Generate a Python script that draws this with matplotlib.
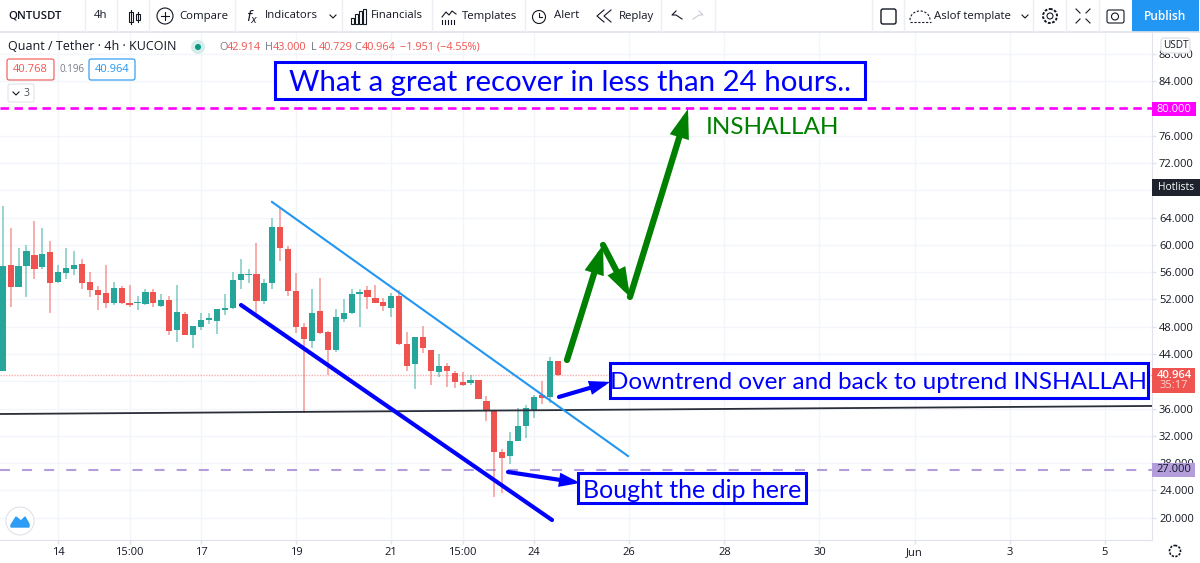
import numpy as np
import matplotlib
matplotlib.use("Agg")
import matplotlib.pyplot as plt
from matplotlib.patches import Rectangle, Circle, FancyBboxPatch, Polygon

plt.rcParams['font.family'] = ['Open Sans', 'DejaVu Sans']

# candles, one row per 4h bar
opens = [41.51, 57.06, 53.78, 56.86, 58.52, 56.71, 58.92, 54.56, 55.93, 56.52,
         57.25, 54.51, 53.44, 52.95, 51.43, 53.73, 51.48, 51.53, 51.34, 53.15,
         51.09, 51.97, 47.52, 49.87, 46.84, 48.01, 49.04, 48.89, 50.50, 50.70,
         54.81, 55.64, 55.69, 51.78, 54.42, 62.58, 59.40, 53.24, 48.01, 45.95,
         50.26, 47.22, 44.54, 49.18, 49.96, 52.80, 53.34, 52.26, 51.58, 50.75,
         52.46, 45.46, 42.48, 46.44, 44.58, 41.31, 42.19, 41.21, 39.94, 39.74,
         40.13, 37.10, 35.64, 29.62, 29.08, 31.23, 33.43, 35.78, 37.93, 37.74,
         42.914]
highs = [65.62, 62.53, 59.60, 59.99, 63.51, 62.53, 60.58, 57.01, 59.50, 59.11,
         57.94, 56.03, 54.03, 57.01, 54.51, 54.03, 54.07, 52.51, 53.49, 53.49,
         52.80, 52.51, 54.07, 50.16, 48.11, 50.02, 50.02, 50.60, 52.85, 56.03,
         57.99, 56.47, 60.33, 55.00, 64.00, 65.52, 59.89, 55.83, 48.50, 53.53,
         55.10, 47.42, 50.55, 52.02, 53.53, 53.53, 53.97, 54.12, 52.16, 52.99,
         53.39, 47.18, 46.44, 48.10, 44.58, 44.00, 42.63, 41.45, 41.40, 40.97,
         40.13, 37.84, 35.78, 30.06, 32.51, 36.03, 36.52, 37.98, 40.04, 43.51,
         43.00]
lows = [41.51, 50.95, 53.78, 52.41, 54.96, 56.42, 49.97, 54.47, 54.96, 55.54,
        53.49, 52.41, 50.46, 50.70, 51.14, 51.34, 50.95, 50.46, 51.24, 50.95,
        50.95, 46.79, 45.71, 46.79, 44.93, 47.52, 48.40, 46.98, 49.72, 50.60,
        53.54, 54.47, 50.06, 51.34, 53.59, 57.69, 52.51, 47.03, 35.29, 44.93,
        46.93, 40.92, 44.34, 48.74, 49.87, 48.01, 50.60, 51.43, 50.35, 49.47,
        45.37, 41.50, 38.86, 44.10, 39.45, 40.57, 39.11, 39.06, 39.35, 39.50,
        37.35, 34.22, 23.07, 23.65, 27.86, 31.19, 31.63, 34.66, 36.66, 36.76,
        40.729]
closes = [56.96, 53.83, 56.86, 59.06, 56.52, 58.67, 54.47, 55.98, 56.57, 57.01,
          54.47, 53.39, 52.61, 51.43, 53.73, 51.43, 51.24, 51.68, 53.15, 51.43,
          51.92, 47.42, 50.11, 46.84, 48.06, 48.99, 49.23, 50.55, 50.70, 54.81,
          55.69, 55.69, 51.78, 54.42, 62.58, 59.50, 53.24, 48.01, 46.25, 49.96,
          47.03, 44.54, 49.47, 49.96, 52.85, 53.04, 52.41, 51.53, 51.09, 52.46,
          45.46, 42.19, 46.44, 44.83, 41.55, 42.19, 41.55, 39.94, 39.45, 40.13,
          37.40, 35.73, 29.62, 28.69, 31.28, 33.48, 36.03, 37.69, 37.54, 42.92,
          40.964]

time_ticks = [7, 16, 25, 37, 49, 58, 67, 79, 91, 103, 115, 127, 139]
time_labels = ["14", "15:00", "17", "19", "21", "15:00", "24", "26", "28", "30", "Jun", "3", "5"]
price_ticks = [20, 24, 28, 32, 36, 40, 44, 48, 52, 56, 60, 64, 68, 72, 76, 80, 84, 88]

# drawings, as (bar, price)
channel_top = ([33.96, 78.85], [66.29, 29.04])
channel_bottom = ([30.05, 69.27], [51.18, 19.66])
support = ([-0.34, 144.93], [35.2, 36.38])
green_path = ([71.16, 75.7, 79.1, 86.42], [43.12, 59.98, 52.36, 79.92])
arrow_breakout = ([70.15, 76.6], [37.7, 39.9])
arrow_dip = ([63.72, 72.8], [26.7, 25.09])
target_level = 80
dip_level = 27
last_price = 40.964

UP, DOWN = "#26a69a", "#ef5350"
GRID = "#f3f5fa"
TEXT = "#131722"
LINE = "#e0e3eb"
BLUE = "#0000ff"
NOTE_FONT = ['Lato', 'DejaVu Sans']

fig = plt.figure(figsize=(12, 5.63), dpi=100)
ax = fig.add_axes([0, 23 / 563, 1152 / 1200, 508 / 563])
ax.set_xlim(-0.34, 144.93)
ax.set_ylim(16.73, 91.2)
ax.grid(True, color=GRID, lw=1)
ax.set_axisbelow(True)
for side in ["top", "left"]:
    ax.spines[side].set_visible(False)
for side in ["right", "bottom"]:
    ax.spines[side].set_color(LINE)
ax.yaxis.tick_right()
ax.set_yticks(price_ticks)
ax.set_yticklabels(["%.3f" % p for p in price_ticks], fontsize=8, color=TEXT)
ax.set_xticks(time_ticks)
ax.set_xticklabels(time_labels, fontsize=8, color=TEXT)
ax.tick_params(axis="both", color=LINE, length=3, width=1, pad=2)

# candles
x = np.arange(len(opens))
o, h, l, c = map(np.array, (opens, highs, lows, closes))
colors = [UP if b >= a else DOWN for a, b in zip(o, c)]
ax.vlines(x, l, h, colors=colors, lw=1.2, alpha=0.55, zorder=2)
ax.bar(x, np.abs(c - o), bottom=np.minimum(o, c), width=0.78, color=colors, zorder=3)

# levels and trend lines
ax.axhline(target_level, color="#ff00ff", lw=1.9, dashes=(3.2, 2.1), zorder=4)
ax.axhline(dip_level, color="#b39ddb", lw=1.5, dashes=(4.8, 5.8), zorder=1.5)
ax.axhline(last_price, color=DOWN, lw=1, dashes=(1, 1), alpha=0.45, zorder=1.5)
ax.plot(*support, color="#2a2e39", lw=1.3, zorder=4)
ax.plot(*channel_top, color="#2196f3", lw=1.5, zorder=4)
ax.plot(*channel_bottom, color=BLUE, lw=3, zorder=4, solid_capstyle="round")


def arrow(xs, ys, color, lw, scale):
    ax.annotate("", xy=(xs[1], ys[1]), xytext=(xs[0], ys[0]), zorder=5,
                arrowprops=dict(arrowstyle="-|>,head_length=0.5,head_width=0.17", color=color,
                                lw=lw, shrinkA=0, shrinkB=0, mutation_scale=scale,
                                capstyle="round", joinstyle="miter"))


for i in range(3):
    arrow(green_path[0][i:i + 2], green_path[1][i:i + 2], "#008000", 4.5, 24)
arrow(*arrow_breakout, BLUE, 3, 18)
arrow(*arrow_dip, BLUE, 3, 18)

# overlay in pixels for the toolbar, badges and text boxes
ui = fig.add_axes([0, 0, 1, 1], facecolor="none")
ui.set_xlim(0, 1200)
ui.set_ylim(563, 0)
ui.axis("off")


def label(px, py, s, size=8.5, color=TEXT, ha="left", **kw):
    return ui.text(px, py, s, fontsize=size, color=color, ha=ha, va="center", **kw)


def boxed(x0, y0, x1, y1, s, size):
    ui.add_patch(Rectangle((x0, y0), x1 - x0, y1 - y0, fc="white", ec=BLUE, lw=2.2, zorder=6))
    ui.text((x0 + x1) / 2, (y0 + y1) / 2, s, fontsize=size, color=BLUE, ha="center",
            va="center_baseline", zorder=7, family=NOTE_FONT)


boxed(275, 62, 865, 99, "What a great recover in less than 24 hours..", 21.2)
boxed(610, 363, 1148, 398, "Downtrend over and back to uptrend INSHALLAH", 17.5)
boxed(578, 473, 806, 503, "Bought the dip here", 18)
label(706, 127, "INSHALLAH", 17.5, "#008000", zorder=7, family=NOTE_FONT)

# price axis badges
ui.add_patch(Rectangle((1152, 102), 44, 14, fc="#ff00ff", ec="none"))
label(1174, 109, "80.000", 8, "white", ha="center")
ui.add_patch(Rectangle((1152, 463), 43, 14, fc="#b39ddb", ec="none"))
label(1174, 470, "27.000", 8, TEXT, ha="center")
ui.add_patch(Rectangle((1152, 368), 43, 25, fc=DOWN, ec="none"))
label(1174, 375, "40.964", 8, "white", ha="center", fontweight="semibold")
label(1174, 386, "35:17", 8, "#ffd6d4", ha="center")
ui.add_patch(Rectangle((1152, 179), 48, 17, fc="#1e222d", ec="none"))
label(1176, 187.5, "Hotlists", 7.4, "white", ha="center")
ui.add_patch(FancyBboxPatch((1161, 38), 29, 15, boxstyle="round,pad=0,rounding_size=3",
                            fc="white", ec=LINE, lw=1))
label(1175.5, 46, "USDT", 7.2, TEXT, ha="center")

# toolbar
ui.add_patch(Rectangle((0, 0), 1200, 32, fc="white", ec="none", zorder=0.5))
ui.plot([0, 1200], [32, 32], color=LINE, lw=1.2)
for sep in [85, 117, 149, 235, 342, 432, 525, 661, 715, 872, 904, 1033, 1066, 1099]:
    ui.plot([sep, sep], [0, 32], color="#eceef4", lw=1)
ui.add_patch(Rectangle((1132, 0), 67, 32, fc="#2196f3", ec="none"))
label(1165.5, 16, "Publish", 8.6, "white", ha="center", fontweight="semibold")
label(8, 16, "QNTUSDT", 8.2, fontweight="semibold")
label(101, 16, "4h", 8.2, ha="center")
label(179, 16, "Compare", 8.2)
label(265, 16, "Indicators", 8.2)
label(371, 16, "Financials", 8.2)
label(462, 16, "Templates", 8.2)
label(554, 16, "Alert", 8.2)
label(619, 16, "Replay", 8.2)
label(934, 16, "Aslof template", 8.2)
label(246, 17, "$f_x$", 10)

# toolbar icons
icon = dict(color=TEXT, lw=0.8)
for cx, top, bottom in [(131, 10, 24), (138, 12, 22)]:
    ui.add_patch(Rectangle((cx - 2, top + 2), 4, bottom - top - 4, fc="white", ec=TEXT, lw=0.8))
    ui.plot([cx, cx], [top, bottom], **icon)
ui.add_patch(Circle((165, 16), 8, fc="none", ec=TEXT, lw=0.8))
ui.plot([161, 169], [16, 16], **icon)
ui.plot([165, 165], [12, 20], **icon)
for cx, hb in [(352, 6), (356, 10), (360, 13), (364, 15)]:
    ui.add_patch(Rectangle((cx - 1.5, 24 - hb), 3, hb, fc="none", ec=TEXT, lw=0.8))
ui.plot([442, 446, 449, 452, 456], [17, 12, 15, 11, 14], **icon)
for cx in [442, 445, 448, 451, 454]:
    ui.plot([cx, cx], [24, 20], **icon)
ui.add_patch(Circle((539, 17), 6.5, fc="none", ec=TEXT, lw=0.8))
ui.plot([539, 539, 542], [13, 17, 17], **icon)
ui.plot([604, 597, 604], [10, 16, 22], **icon)
ui.plot([611, 604, 611], [10, 16, 22], **icon)
ui.plot([682, 676, 672, 676], [19, 15, 15, 11], **icon)
ui.plot([693, 699, 703, 699], [19, 15, 15, 11], color="#c8cbd3", lw=0.8)
ui.add_patch(FancyBboxPatch((881, 9), 15, 15, boxstyle="round,pad=0,rounding_size=2",
                            fc="none", ec=TEXT, lw=1))
cloud_t = np.linspace(np.pi, 0, 30)
ui.plot(920 + 10 * np.cos(cloud_t), 20 + 9 * np.sin(-cloud_t), color=TEXT, lw=0.8, ls=(0, (2, 1.5)))
ui.plot([910, 931], [22, 22], color=TEXT, lw=0.8, ls=(0, (2, 1.5)))
for cx in [333, 1025]:
    ui.plot([cx - 3, cx, cx + 3], [15, 18, 15], **icon)
ui.add_patch(Circle((1050, 16), 7, fc="none", ec=TEXT, lw=1.4, ls=(0, (1.4, 0.8))))
ui.add_patch(Circle((1050, 16), 3, fc="none", ec=TEXT, lw=0.8))
for dx, dy in [(-1, -1), (1, -1), (-1, 1), (1, 1)]:
    ui.plot([1083 + dx * 3, 1083 + dx * 7], [16 + dy * 3, 16 + dy * 7], **icon)
ui.add_patch(FancyBboxPatch((1107, 10), 17, 13, boxstyle="round,pad=0,rounding_size=2",
                            fc="none", ec=TEXT, lw=0.8))
ui.add_patch(Circle((1115, 16.5), 3.5, fc="none", ec=TEXT, lw=0.8))

# legend rows
label(8, 47, "Quant / Tether · 4h · KUCOIN", 9)
ui.add_patch(Circle((198, 47), 7, fc="#d5ece9", ec="none"))
ui.add_patch(Circle((198, 47), 3, fc="#089981", ec="none"))
for px, head, val in [(219, "O", "42.914"), (265, "H", "43.000"), (311, "L", "40.729"), (354, "C", "40.964")]:
    label(px, 47, head, 7.8, "#787b86")
    label(px + 8, 47, val, 7.8, DOWN)
label(400, 47, "−1.951 (−4.55%)", 7.8, DOWN)
ui.add_patch(FancyBboxPatch((7, 59), 47, 21, boxstyle="round,pad=0,rounding_size=2", fc="white", ec=DOWN, lw=0.8))
label(30.5, 70, "40.768", 8, DOWN, ha="center")
label(72, 70, "0.196", 7, "#787b86", ha="center")
ui.add_patch(FancyBboxPatch((89, 59), 46, 21, boxstyle="round,pad=0,rounding_size=2", fc="white", ec="#2196f3", lw=0.8))
label(112, 70, "40.964", 8, "#2196f3", ha="center")
ui.add_patch(FancyBboxPatch((8, 84), 26, 18, boxstyle="round,pad=0,rounding_size=2", fc="white", ec=LINE, lw=0.8))
ui.plot([13, 16, 19], [92, 95, 92], **icon)
label(24, 93, "3", 7.5, "#50535e")

# logo and settings at the bottom
ui.add_patch(Circle((20, 521), 14, fc="white", ec=LINE, lw=0.8))
ui.add_patch(Polygon([[11, 525], [16, 517], [21, 521], [25, 517], [29, 524], [29, 527], [11, 527]],
                     fc="#2e9cf4", ec="#2e9cf4", lw=1))
ui.add_patch(Circle((1175, 551), 5.5, fc="none", ec=TEXT, lw=1.2, ls=(0, (1.4, 0.8))))

fig.savefig("out.png", dpi=100)
